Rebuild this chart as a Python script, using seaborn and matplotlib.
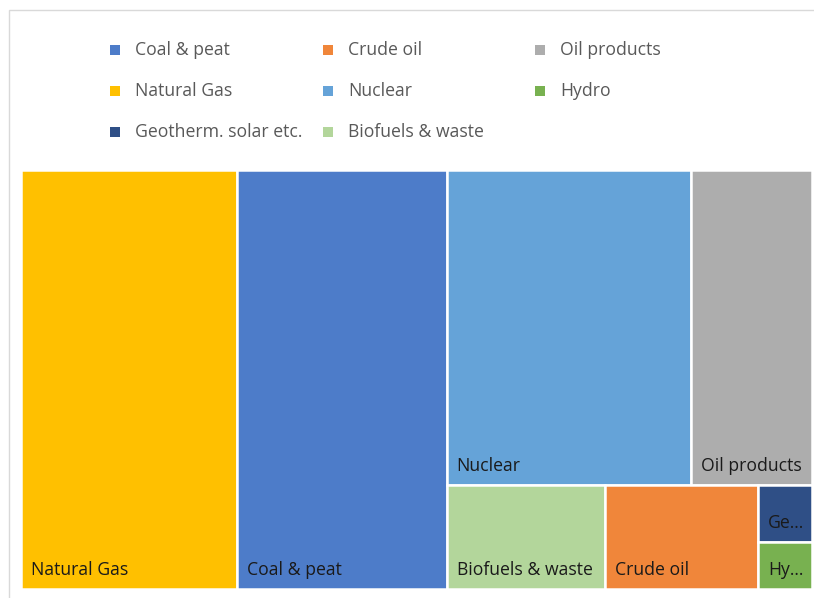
import matplotlib
matplotlib.use("Agg")
import matplotlib.pyplot as plt
from matplotlib.patches import Rectangle
import seaborn as sns

sns.set_theme(style="white")
plt.rcParams['font.family'] = ['Open Sans', 'DejaVu Sans']

# ---- data ----
categories = ["Natural Gas", "Coal & peat", "Nuclear", "Oil products",
              "Biofuels & waste", "Crude oil", "Geotherm. solar etc.", "Hydro"]
values = [27.3, 26.5, 23.2, 11.5, 5.0, 4.8, 0.94, 0.76]
colors = ["#FFC000", "#4D7CC9", "#65A3D8", "#ADADAD",
          "#B3D69B", "#F0863A", "#2F4F86", "#78B150"]
legend_order = ["Coal & peat", "Crude oil", "Oil products",
                "Natural Gas", "Nuclear", "Hydro",
                "Geotherm. solar etc.", "Biofuels & waste"]

val = dict(zip(categories, values))
col = dict(zip(categories, colors))

# layout tree: ('h' = side by side, 'v' = stacked)
tree = ('h', ["Natural Gas", "Coal & peat",
              ('v', [('h', ["Nuclear", "Oil products"]),
                     ('h', ["Biofuels & waste", "Crude oil",
                            ('v', ["Geotherm. solar etc.", "Hydro"])])])])


def total(node):
    if isinstance(node, str):
        return val[node]
    return sum(total(c) for c in node[1])


def layout(node, x, y, w, h, out):
    if isinstance(node, str):
        out.append((node, x, y, w, h))
        return
    d, children = node
    t = total(node)
    pos = 0.0
    for c in children:
        f = total(c) / t
        if d == 'h':
            layout(c, x + pos * w, y, w * f, h, out)
        else:
            layout(c, x, y + pos * h, w, h * f, out)
        pos += f


W, H = 814, 598
fig = plt.figure(figsize=(W / 100, H / 100), dpi=100)
ax = fig.add_axes([0, 0, 1, 1])
ax.set_xlim(0, W)
ax.set_ylim(H, 0)
ax.axis('off')

# chart border
ax.plot([8.5, 8.5, W + 5], [H + 5, 9.5, 9.5], color="#D9D9D9", lw=1.0,
        solid_joinstyle='miter')

cells = []
layout(tree, 21, 170, 791, 419, cells)

fig.canvas.draw()
renderer = fig.canvas.get_renderer()
fs = 12.7
for name, x, y, w, h in cells:
    ax.add_patch(Rectangle((x, y), w, h, facecolor=col[name],
                           edgecolor="white", lw=1.8))
    t = ax.text(x + 10, y + h - 19, name, fontsize=fs, color="#1A1A1A",
                va='center', ha='left')
    avail = w - 14
    if t.get_window_extent(renderer).width > avail:
        n = len(name)
        while n > 1:
            n -= 1
            t.set_text(name[:n].rstrip() + "...")
            if t.get_window_extent(renderer).width <= avail:
                break

# legend
col_x = [135, 348, 560]
row_y = [50, 91, 132]
for i, name in enumerate(legend_order):
    r, c = divmod(i, 3)
    tx, ty = col_x[c], row_y[r]
    ax.add_patch(Rectangle((tx - 25, ty - 5), 10, 10, facecolor=col[name],
                           edgecolor='none'))
    ax.text(tx, ty, name, fontsize=fs, color="#595959", va='center', ha='left')

fig.savefig("out.png", dpi=100)
